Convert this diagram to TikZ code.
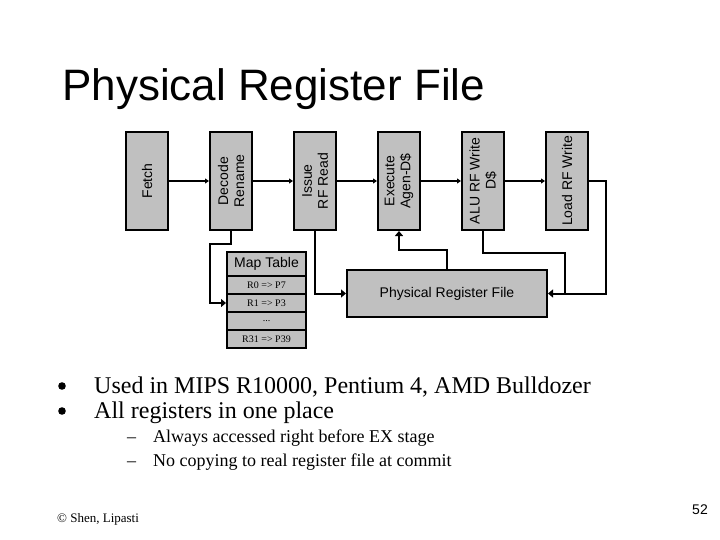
\documentclass[tikz,border=0pt]{standalone}
\usepackage{fontspec}
\setmainfont{Liberation Serif}
\newfontfamily\arial{Liberation Sans}
\usetikzlibrary{arrows.meta}
\definecolor{boxgray}{RGB}{192,192,192}
\begin{document}
\begin{tikzpicture}[x=1pt,y=-1pt,
  stagebox/.style={draw, line width=2pt, fill=boxgray, minimum width=42pt, minimum height=98pt, inner sep=0pt},
  lbl/.style={rotate=90, font=\arial\fontsize{14}{16}\selectfont, align=center, inner sep=0pt},
  mtrow/.style={draw, line width=2pt, fill=boxgray, minimum width=79pt, minimum height=18pt, inner sep=0pt, font=\fontsize{10}{12}\selectfont},
  stagearr/.style={line width=2pt, -{Triangle[length=4pt,width=5pt]}},
  conn/.style={line width=2pt, -{Triangle[length=5pt,width=8pt]}},
  plain/.style={line width=2pt},
  bul/.style={anchor=base west, inner sep=0pt, font=\fontsize{24}{28}\selectfont},
  subbul/.style={anchor=base west, inner sep=0pt, font=\fontsize{18}{22}\selectfont},
]
\useasboundingbox (0,0) rectangle (720,540);
\node[anchor=base west, inner sep=0pt, font=\arial\fontsize{44}{48}\selectfont] (title) at (62,101) {Physical Register File};

% pipeline stages
\node[stagebox, label={[lbl]center:Fetch}] (fetch) at (147,181) {};
\node[stagebox, label={[lbl]center:{Decode\\Rename}}] (decode) at (231,181) {};
\node[stagebox, label={[lbl]center:{Issue\\RF Read}}] (issue) at (315,181) {};
\node[stagebox, label={[lbl]center:{Execute\\Agen-D\$}}] (exec) at (399,181) {};
\node[stagebox, label={[lbl]center:{ALU RF Write\\D\$}}] (alu) at (483,181) {};
\node[stagebox, label={[lbl]center:{Load RF Write}}] (load) at (567,181) {};

\draw[stagearr] (fetch) -- (decode);
\draw[stagearr] (decode) -- (issue);
\draw[stagearr] (issue) -- (exec);
\draw[stagearr] (exec) -- (alu);
\draw[stagearr] (alu) -- (load);

% map table
\node[mtrow, minimum height=24pt, font=\arial\fontsize{14}{16}\selectfont] (mthead) at (266.5,264) {Map Table};
\node[mtrow] (r0) at (266.5,285) {R0 => P7};
\node[mtrow] (r1) at (266.5,303) {R1 => P3};
\node[mtrow] (rdots) at (266.5,321) {...};
\node[mtrow] (r31) at (266.5,339) {R31 => P39};

% physical register file
\node[draw, line width=2pt, fill=boxgray, minimum width=200pt, minimum height=47pt, inner sep=0pt, font=\arial\fontsize{14}{16}\selectfont] (prf) at (447,293.5) {Physical Register File};

% connectors
\draw[conn] (decode.south) -- ++(0,13) -- ++(-21,0) |- (r1.west);
\draw[conn] (issue.south) |- (prf.west);
\draw[conn] (prf.north) -- ++(0,-19) -| (exec.south);
\draw[plain] (alu.south) -- ++(0,22) -| ([xshift=17pt]prf.east);
\draw[conn] (load.east) -- ++(17,0) |- (prf.east);

% bullets
\fill (62,386) circle (3.8pt);
\fill (62,411) circle (3.8pt);
\node[bul] (b1) at (94,393) {Used in MIPS R10000, Pentium 4, AMD Bulldozer};
\node[bul] (b2) at (94,418) {All registers in one place};
\node[subbul] (s1) at (127,442) {–\hspace{17pt}Always accessed right before EX stage};
\node[subbul] (s2) at (127,466) {–\hspace{17pt}No copying to real register file at commit};

% footer
\node[anchor=base west, inner sep=0pt, font=\fontsize{13}{15}\selectfont] (foot) at (57,522) {© Shen, Lipasti};
\node[anchor=base east, inner sep=0pt, font=\arial\fontsize{14}{16}\selectfont] (page) at (708,514) {52};
\end{tikzpicture}
\end{document}
